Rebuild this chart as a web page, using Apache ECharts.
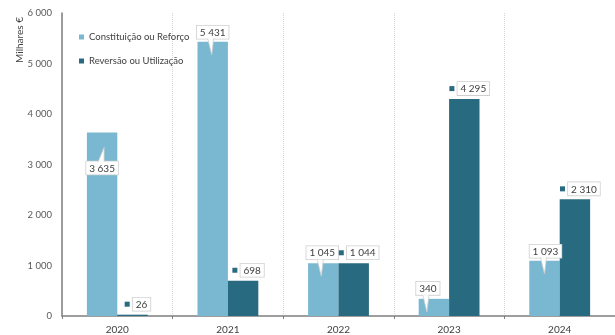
<!DOCTYPE html>
<html>
<head>
<meta charset="utf-8">
<script src="https://cdn.jsdelivr.net/npm/echarts@6/dist/echarts.min.js"></script>
<style>
  html, body { margin: 0; padding: 0; background: #fff; }
  #chart { width: 615px; height: 335px; }
</style>
</head>
<body>
<div id="chart"></div>
<script>
// Provisões: constituição vs. reversão, por ano (milhares de euros)
const years = ['2020', '2021', '2022', '2023', '2024'];
const constituicao = [3635, 5431, 1045, 340, 1093];
const reversao = [26, 698, 1044, 4295, 2310];
const yTicks = [0, 1000, 2000, 3000, 4000, 5000, 6000];

const LIGHT = '#79b8d0';
const DARK = '#286b81';
const TEXT = '#404040';
const FONT = 'Lato, "Open Sans", sans-serif';

// "5 431" style thousands separator
function fmt(v) {
  if (v < 1000) return String(v);
  return Math.floor(v / 1000) + ' ' + String(v % 1000).padStart(3, '0');
}

const boxStyle = {
  backgroundColor: '#fff',
  borderColor: '#cfcfcf',
  borderWidth: 0.8,
  padding: [2, 3, 1, 3],
  color: TEXT,
  fontSize: 10,
  fontFamily: FONT
};

// per-bar label placement for the light series
const lightLabelPlacement = [
  { position: 'insideTop', distance: 29, offset: [0, 0] },
  { position: 'top', distance: 3, offset: [0, 0] },
  { position: 'top', distance: 4, offset: [-1, 0] },
  { position: 'top', distance: 4, offset: [-6, 0] },
  { position: 'top', distance: 3, offset: [1, 0] }
];

const lightData = constituicao.map((v, i) => ({
  value: v,
  label: Object.assign({
    show: true,
    formatter: p => fmt(p.value)
  }, boxStyle, lightLabelPlacement[i])
}));

// callout pointers of the light labels, anchored to each bar top
function renderPointer(params, api) {
  const i = api.value(0);
  const v = api.value(1);
  const pt = api.coord([i, v]);
  const catW = api.size([1, 0])[0];
  const bw = catW * 0.275;
  const cx = pt[0] - bw / 2 + lightLabelPlacement[i].offset[0];
  const ty = pt[1];
  let pts;
  if (lightLabelPlacement[i].position === 'insideTop') {
    const by = ty + 29;
    pts = [[cx - 4, by + 0.5], [cx + 2, by + 0.5], [cx + 2, ty + 15]];
  } else {
    const by = ty - 3;
    pts = [[cx - 5, by - 0.5], [cx + 1, by - 0.5], [cx - 1, ty + 13]];
  }
  return {
    type: 'group',
    children: [
      { type: 'polygon', shape: { points: pts }, style: { fill: '#fff' } },
      { type: 'polyline', shape: { points: [pts[0], pts[2], pts[1]] },
        style: { stroke: '#cfcfcf', lineWidth: 0.8, fill: null } }
    ]
  };
}

const chart = echarts.init(document.getElementById('chart'), null, { renderer: 'canvas' });

chart.setOption({
  animation: false,
  textStyle: { fontFamily: FONT },
  grid: { left: 62, right: -10, top: 13, bottom: 18, containLabel: false },
  legend: {
    orient: 'vertical',
    left: 74,
    top: 27,
    icon: 'rect',
    itemWidth: 5,
    itemHeight: 5,
    itemGap: 14,
    textStyle: { fontSize: 9.5, color: TEXT, fontFamily: FONT },
    data: ['Constituição ou Reforço', 'Reversão ou Utilização']
  },
  graphic: [{
    type: 'text',
    x: 20,
    y: 40,
    rotation: Math.PI / 2,
    style: {
      text: 'Milhares €',
      fontSize: 10,
      fill: TEXT,
      fontFamily: FONT,
      align: 'center',
      verticalAlign: 'middle'
    }
  }],
  xAxis: {
    type: 'category',
    data: years,
    axisLine: { lineStyle: { color: '#7f7f7f', width: 1.5 } },
    axisTick: { show: true, length: 3, lineStyle: { color: '#7f7f7f' } },
    axisLabel: { fontSize: 10, color: TEXT, margin: 9, fontFamily: FONT },
    splitLine: { show: true, interval: 0, lineStyle: { color: '#d4d4d4', type: 'dotted', width: 1 } }
  },
  yAxis: {
    type: 'value',
    min: yTicks[0],
    max: yTicks[yTicks.length - 1],
    interval: yTicks[1] - yTicks[0],
    axisLine: { show: true, lineStyle: { color: '#7f7f7f', width: 1.5 } },
    axisTick: { show: false },
    splitLine: { show: false },
    axisLabel: { fontSize: 9.5, color: '#595959', margin: 10, fontFamily: FONT, formatter: fmt }
  },
  series: [
    {
      name: 'Constituição ou Reforço',
      type: 'bar',
      barGap: '0%',
      barCategoryGap: '45%',
      itemStyle: { color: LIGHT },
      data: lightData,
      z: 2
    },
    {
      name: 'Reversão ou Utilização',
      type: 'bar',
      itemStyle: { color: DARK },
      data: reversao,
      z: 2,
      label: {
        show: true,
        position: 'top',
        distance: 4,
        offset: [5, 0],
        formatter: p => '{sq|} {b|' + fmt(p.value) + '}',
        rich: {
          sq: { width: 5, height: 5, backgroundColor: DARK },
          b: boxStyle
        }
      }
    },
    {
      type: 'custom',
      name: 'pointer',
      renderItem: renderPointer,
      data: constituicao.map((v, i) => [i, v]),
      silent: true,
      z: 3,
      tooltip: { show: false }
    }
  ]
});
</script>
</body>
</html>
